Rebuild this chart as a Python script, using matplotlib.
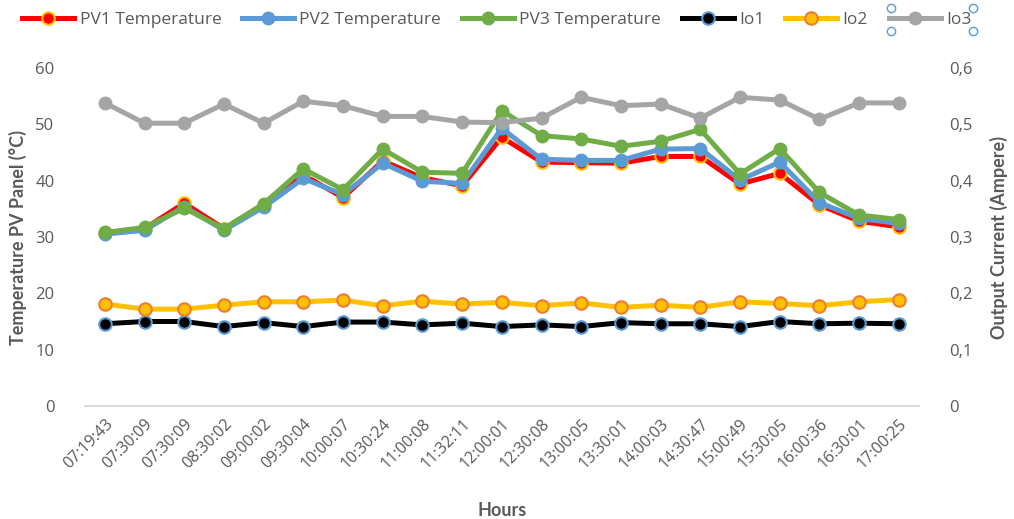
import matplotlib
matplotlib.use("Agg")
import matplotlib.pyplot as plt
from matplotlib.lines import Line2D

hours = ["07:19:43", "07:30:09", "07:30:09", "08:30:02", "09:00:02", "09:30:04",
         "10:00:07", "10:30:24", "11:00:08", "11:32:11", "12:00:01", "12:30:08",
         "13:00:05", "13:30:01", "14:00:03", "14:30:47", "15:00:49", "15:30:05",
         "16:00:36", "16:30:01", "17:00:25"]

pv1 = [30.7, 31.5, 36.0, 31.5, 35.6, 41.0, 37.0, 43.5, 40.5, 39.1, 47.7, 43.3,
       43.2, 43.1, 44.3, 44.3, 39.4, 41.3, 35.7, 32.8, 31.8]
pv2 = [30.5, 31.2, 35.4, 31.2, 35.3, 40.4, 37.5, 43.1, 39.9, 39.5, 49.3, 43.8,
       43.6, 43.6, 45.6, 45.7, 40.1, 43.3, 36.1, 33.3, 32.4]
pv3 = [30.8, 31.7, 35.1, 31.5, 35.9, 42.1, 38.4, 45.6, 41.5, 41.3, 52.4, 48.0,
       47.4, 46.1, 47.0, 49.1, 41.2, 45.7, 37.9, 33.9, 33.1]

io1 = [0.146, 0.150, 0.150, 0.141, 0.148, 0.141, 0.149, 0.149, 0.144, 0.147, 0.141,
       0.144, 0.141, 0.148, 0.146, 0.146, 0.141, 0.150, 0.146, 0.147, 0.146]
io2 = [0.181, 0.172, 0.172, 0.179, 0.185, 0.185, 0.188, 0.178, 0.186, 0.181, 0.184,
       0.178, 0.183, 0.175, 0.179, 0.175, 0.185, 0.182, 0.178, 0.185, 0.189]
io3 = [0.538, 0.502, 0.502, 0.536, 0.502, 0.541, 0.533, 0.514, 0.514, 0.504, 0.503,
       0.511, 0.548, 0.533, 0.536, 0.511, 0.548, 0.543, 0.509, 0.538, 0.538]

left_ticks = [0, 10, 20, 30, 40, 50, 60]
right_ticks = [0, 0.1, 0.2, 0.3, 0.4, 0.5, 0.6]
right_labels = ["0", "0,1", "0,2", "0,3", "0,4", "0,5", "0,6"]

TXT = "#595959"
FONT = ["Open Sans", "DejaVu Sans"]
BOLD = ["Lato", "DejaVu Sans"]

fig = plt.figure(figsize=(10.14, 5.19), dpi=100)
ax = fig.add_axes([0.0838, 0.2177, 0.8222, 0.6513])
ax2 = ax.twinx()

x = list(range(len(hours)))
lw = 3.6
ms = 9

l1, = ax.plot(x, pv1, color="#FF0000", lw=lw, marker="o", ms=ms,
              mfc="#FF0000", mec="#FFC000", mew=1.5, label="PV1 Temperature")
l2, = ax.plot(x, pv2, color="#5B9BD5", lw=lw, marker="o", ms=ms,
              mfc="#5B9BD5", mec="#5B9BD5", label="PV2 Temperature")
l3, = ax.plot(x, pv3, color="#70AD47", lw=lw, marker="o", ms=ms,
              mfc="#70AD47", mec="#70AD47", label="PV3 Temperature")
l4, = ax2.plot(x, io1, color="#000000", lw=lw, marker="o", ms=ms,
               mfc="#000000", mec="#5B9BD5", mew=1.5, label="Io1")
l5, = ax2.plot(x, io2, color="#FFC000", lw=lw, marker="o", ms=ms,
               mfc="#FFC000", mec="#ED7D31", mew=1.5, label="Io2")
l6, = ax2.plot(x, io3, color="#A5A5A5", lw=lw, marker="o", ms=ms,
               mfc="#A5A5A5", mec="#A5A5A5", label="Io3")

ax.set_xlim(-0.5, len(hours) - 0.5)
ax.set_ylim(0, 60)
ax2.set_ylim(0, 0.6)
ax.set_yticks(left_ticks)
ax.set_yticklabels([str(t) for t in left_ticks], fontsize=12, color=TXT, family=FONT)
ax2.set_yticks(right_ticks)
ax2.set_yticklabels(right_labels, fontsize=12, color=TXT, family=FONT)
ax.set_xticks(x)
ax.set_xticklabels(hours, rotation=45, ha="right", rotation_mode="anchor",
                   fontsize=11.5, color=TXT, family=FONT)

for a in (ax, ax2):
    for s in ("top", "left", "right"):
        a.spines[s].set_visible(False)
    a.spines["bottom"].set_color("#D9D9D9")
    a.spines["bottom"].set_linewidth(1.2)
    a.tick_params(length=0)
ax.tick_params(axis="y", pad=22)
ax2.tick_params(axis="y", pad=22)
ax.tick_params(axis="x", pad=7)

ax.set_ylabel("Temperature PV Panel (\u00b0C)", fontsize=13, fontweight="bold",
              color=TXT, family=BOLD, labelpad=6)
ax2.set_ylabel("Output Current (Ampere)", fontsize=13, fontweight="bold",
               color=TXT, family=BOLD, labelpad=12)
ax.set_xlabel("Hours", fontsize=13, fontweight="bold", color=TXT, family=BOLD,
              labelpad=22)

handles = [l1, l2, l3, l4, l5, l6]
leg = fig.legend(handles, [h.get_label() for h in handles], loc="center",
                 bbox_to_anchor=(0.49, 0.962), ncol=6, frameon=False,
                 handlelength=3.0, handletextpad=0.3, columnspacing=1.2,
                 prop={"family": FONT, "size": 12.5})
for t in leg.get_texts():
    t.set_color(TXT)

# selection handles around the Io3 legend entry (as in the reference screenshot)
for hx, hy in [(0.879, 0.985), (0.879, 0.94), (0.960, 0.985), (0.960, 0.94)]:
    fig.add_artist(Line2D([hx], [hy], transform=fig.transFigure, marker="o",
                          ms=6, mfc="white", mec="#5B9BD5", mew=1, ls="none"))

fig.savefig("out.png", dpi=100)
